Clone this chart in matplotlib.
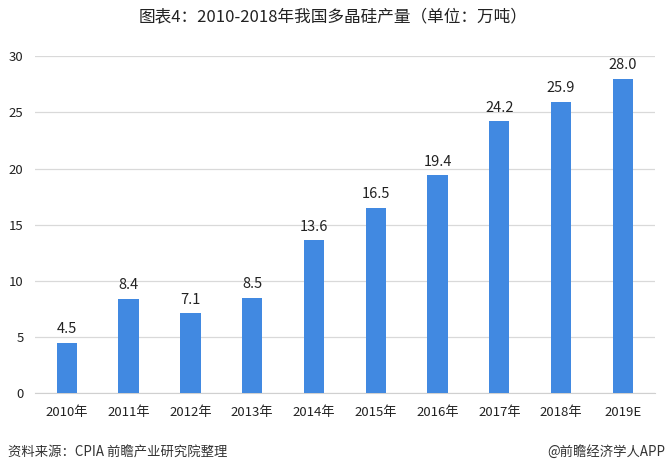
import matplotlib.pyplot as plt

plt.rcParams['font.family'] = ['Noto Sans CJK SC', 'DejaVu Sans']

years = ['2010年', '2011年', '2012年', '2013年', '2014年', '2015年',
         '2016年', '2017年', '2018年', '2019E']
output = [4.5, 8.4, 7.1, 8.5, 13.6, 16.5, 19.4, 24.2, 25.9, 28.0]

fig = plt.figure(figsize=(6.67, 4.72), dpi=100)
ax = fig.add_axes([0.052, 0.167, 0.93, 0.714])

x = range(len(years))
bars = ax.bar(x, output, width=0.33, color='#4189E1', zorder=3)
for i, v in enumerate(output):
    ax.text(i, v + 0.6, f'{v:.1f}', ha='center', va='bottom', fontsize=10.5, color='#222222')

ax.set_xlim(-0.52, 9.52)
ax.set_ylim(0, 30)
ax.set_yticks(range(0, 31, 5))
ax.set_xticks(list(x))
ax.set_xticklabels(years)
ax.yaxis.grid(True, color='#d9d9d9', linewidth=0.9, zorder=0)
for s in ['top', 'right', 'left']:
    ax.spines[s].set_visible(False)
ax.spines['bottom'].set_color('#d0d0d0')
ax.tick_params(axis='both', length=0, labelsize=9.5, colors='#222222')
ax.tick_params(axis='x', pad=9)
ax.tick_params(axis='y', pad=8)

fig.text(0.5, 0.962, '图表4：2010-2018年我国多晶硅产量（单位：万吨）', ha='center', va='center',
         fontsize=12, color='#222222')
fig.text(0.012, 0.042, '资料来源：CPIA 前瞻产业研究院整理', ha='left', va='center',
         fontsize=9.6, style='italic', color='#333333')
fig.text(0.998, 0.042, '@前瞻经济学人APP', ha='right', va='center',
         fontsize=9.6, color='#333333')

fig.savefig('out.png', dpi=100)
